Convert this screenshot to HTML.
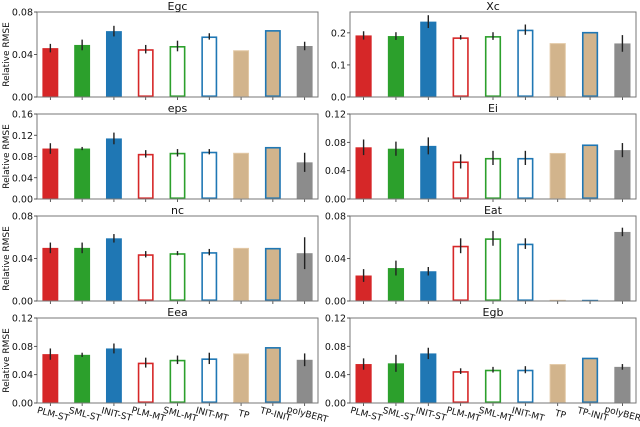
<!DOCTYPE html>
<html><head><meta charset="utf-8"><style>
body{margin:0;background:#fff}
svg{display:block;font-family:"DejaVu Sans","Liberation Sans",sans-serif}
</style></head><body>
<svg id="chart" width="640" height="427" viewBox="0 0 640 427"></svg>
<script>
const categories=["PLM-ST","SML-ST","INIT-ST","PLM-MT","SML-MT","INIT-MT","TP","TP-INIT","polyBERT"];
const titles=["Egc","Xc","eps","Ei","nc","Eat","Eea","Egb"];
const yMaxes=[0.08,0.265,0.16,0.12,0.08,0.08,0.12,0.12];
const tickLabels=[["0.00","0.04","0.08"],["0.0","0.1","0.2"],["0.00","0.04","0.08","0.12","0.16"],["0.00","0.04","0.08","0.12"],["0.00","0.04","0.08"],["0.00","0.04","0.08"],["0.00","0.04","0.08","0.12"],["0.00","0.04","0.08","0.12"]];
const valEgc=[.046,.049,.062,.045,.048,.057,.044,.063,.048];
const errEgc=[.004,.005,.005,.004,.005,.003,0,0,.004];
const valXc=[.192,.19,.235,.186,.19,.21,.168,.203,.167];
const errXc=[.013,.012,.02,.007,.012,.016,0,0,.026];
const valEps=[.095,.095,.114,.085,.087,.089,.087,.098,.069];
const errEps=[.01,.003,.011,.007,.007,.005,0,0,.018];
const valEi=[.073,.071,.075,.053,.058,.058,.065,.077,.069];
const errEi=[.011,.01,.012,.01,.01,.01,0,0,.01];
const valNc=[.050,.050,.059,.044,.045,.046,.050,.050,.045];
const errNc=[.005,.005,.004,.003,.002,.003,0,0,.015];
const valEat=[.024,.031,.028,.052,.059,.054,.0005,.0005,.065];
const errEat=[.006,.007,.004,.007,.007,.005,0,0,.004];
const valEea=[.069,.068,.077,.057,.061,.063,.070,.079,.061];
const errEea=[.008,.003,.007,.007,.006,.008,0,0,.009];
const valEgb=[.055,.056,.070,.045,.047,.047,.055,.064,.051];
const errEgb=[.008,.012,.008,.004,.004,.005,0,0,.004];
const values=[valEgc,valXc,valEps,valEi,valNc,valEat,valEea,valEgb];
const errors=[errEgc,errXc,errEps,errEi,errNc,errEat,errEea,errEgb];

const NS="http://www.w3.org/2000/svg";
const svg=document.getElementById('chart');
function mk(tag,attrs,parent){const e=document.createElementNS(NS,tag);for(const k in attrs)e.setAttribute(k,attrs[k]);(parent||svg).appendChild(e);return e;}
const fills=["#d62728","#2ca02c","#1f77b4","#fff","#fff","#fff","#d2b48c","#d2b48c","#8c8c8c"];
const edges=["#d62728","#2ca02c","#1f77b4","#d62728","#2ca02c","#1f77b4","#e3c9a6","#1f77b4","#8c8c8c"];
for(let p=0;p<8;p++){
  const col=p%2,row=Math.floor(p/2);
  const L=col?350:37,R=col?636:318,T=12+row*102,B=T+85;
  const g=mk('g',{});
  
  
  const x=i=>L+(i+0.42)/8.84*(R-L);
  const y=v=>B-v/yMaxes[p]*(B-T);
  const bw=0.5/8.84*(R-L);
  for(let i=0;i<9;i++){
    const v=values[p][i],e=errors[p][i];
    const outline=(i>=3&&i<=5)||i===7;
    const h=B-y(v);
    let r;
    if(h<2){
      r=mk('rect',{x:x(i)-bw/2,y:B-1.2,width:bw,height:1.2,fill:edges[i]},g);
    }else{
      const sw=outline?1.6:1;
      r=mk('rect',{x:x(i)-bw/2+sw/2,y:B-h+sw/2,width:bw-sw,height:h-sw,fill:fills[i],stroke:edges[i],'stroke-width':sw},g);
    }
    
    
    if(e>0){const l=mk('line',{x1:x(i),x2:x(i),y1:y(v-e),y2:y(v+e),stroke:'#222','stroke-width':1.4},g);
      
      }
    mk('line',{x1:x(i),x2:x(i),y1:B,y2:B+3,stroke:'#333','stroke-width':0.8},g);
  }
  const fr=mk('rect',{x:L,y:T,width:R-L,height:B-T,fill:'none',stroke:'#777','stroke-width':1},g);
  
  
  const tl=tickLabels[p];
  tl.forEach(t=>{const v=parseFloat(t);const yy=y(v);
    mk('line',{x1:L-3,x2:L,y1:yy,y2:yy,stroke:'#333','stroke-width':0.8},g);
    const tx=mk('text',{x:L-4,y:yy+3.5,'font-size':9.5,'text-anchor':'end',fill:'#111'},g);
    tx.textContent=t;
    
    });
  const tt=mk('text',{x:(L+R)/2,y:T-2,'font-size':11,'text-anchor':'middle',fill:'#111'},g);
  tt.textContent=titles[p];
  
  
  if(col===0){const yl=mk('text',{x:0,y:0,'font-size':9,'text-anchor':'middle',fill:'#111',transform:`translate(9,${(T+B)/2}) rotate(-90)`},g);
    yl.textContent='Relative RMSE';
    
    }
  if(row===3){for(let i=0;i<9;i++){const xl=mk('text',{x:0,y:0,'font-size':9,'text-anchor':'middle',fill:'#111',transform:`translate(${x(i)+2},${B+14}) rotate(15)`},g);
    xl.textContent=categories[i];
    
    }}
}
</script>
</body></html>
